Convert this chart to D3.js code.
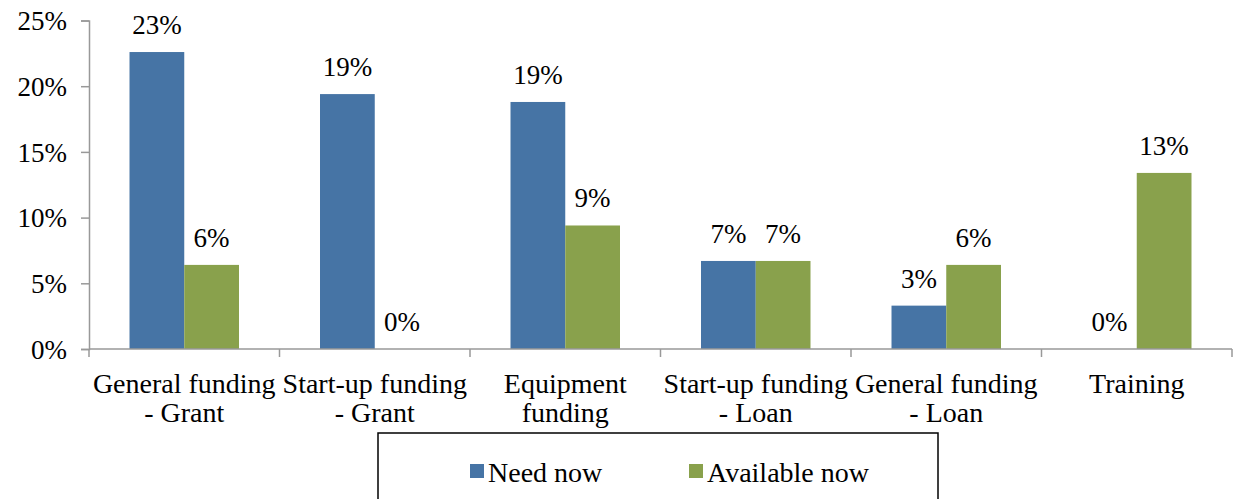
<!DOCTYPE html>
<html>
<head>
<meta charset="utf-8">
<script src="https://cdn.jsdelivr.net/npm/d3@7"></script>
<style>
  body { margin: 0; background: #fff; }
  svg text { font-family: "Liberation Serif", serif; fill: #000; }
</style>
</head>
<body>
<svg id="chart" width="1236" height="499"></svg>
<script>
// data
var categories = [
  ["General funding", "- Grant"],
  ["Start-up funding", "- Grant"],
  ["Equipment", "funding"],
  ["Start-up funding", "- Loan"],
  ["General funding", "- Loan"],
  ["Training"]
];
var seriesNames = ["Need now", "Available now"];
var needNow      = [22.6, 19.4, 18.8, 6.7, 3.3, 0];
var availableNow = [6.4, 0, 9.4, 6.7, 6.4, 13.4];
var valueLabels  = [["23%", "19%", "19%", "7%", "3%", "0%"],
                    ["6%", "0%", "9%", "7%", "6%", "13%"]];
var yTicks = [0, 5, 10, 15, 20, 25];
var colors = ["#4674a5", "#89a14c"];

var svg = d3.select("#chart");
var plotLeft = 89, plotRight = 1232, plotTop = 20.5, plotBottom = 349;

var x0 = d3.scaleBand().domain(d3.range(categories.length))
    .range([plotLeft, plotRight]).paddingInner(0).paddingOuter(0);
var x1 = d3.scaleBand().domain([0, 1])
    .range([0, x0.bandwidth()]).paddingInner(0).paddingOuter(0.74);
var y = d3.scaleLinear().domain([0, 25]).range([plotBottom, plotTop]);

var series = [needNow, availableNow];

// y axis
var yAxis = svg.append("g").attr("transform", "translate(" + plotLeft + ",0)")
    .call(d3.axisLeft(y).tickValues(yTicks).tickSize(8).tickPadding(14)
          .tickFormat(function(d) { return d + "%"; }));
yAxis.select(".domain").attr("stroke", "#999").attr("stroke-width", 1.5);
yAxis.selectAll(".tick line").attr("stroke", "#999").attr("stroke-width", 1.5);
yAxis.selectAll(".tick text").style("font-size", "27px").attr("dy", "0.34em")
    .style("font-family", "Liberation Serif");

// bars
series.forEach(function(vals, s) {
  svg.append("g").selectAll("rect").data(vals).enter().append("rect")
    .attr("x", function(d, i) { return x0(i) + x1(s); })
    .attr("y", function(d) { return y(d); })
    .attr("width", x1.bandwidth())
    .attr("height", function(d) { return y(0) - y(d); })
    .attr("fill", colors[s]);

  svg.append("g").selectAll("text").data(vals).enter().append("text")
    .attr("x", function(d, i) { return x0(i) + x1(s) + x1.bandwidth() / 2; })
    .attr("y", function(d) { return y(d) - 18; })
    .attr("text-anchor", "middle")
    .style("font-size", "27px")
    .text(function(d, i) { return valueLabels[s][i]; });
});

// x axis
svg.append("line").attr("x1", plotLeft).attr("x2", plotRight)
  .attr("y1", plotBottom).attr("y2", plotBottom)
  .attr("stroke", "#999").attr("stroke-width", 1.5);
var bounds = d3.range(categories.length + 1).map(function(i) {
  return i < categories.length ? x0(i) : plotRight;
});
svg.append("g").selectAll("line").data(bounds).enter().append("line")
  .attr("x1", function(d) { return d; }).attr("x2", function(d) { return d; })
  .attr("y1", plotBottom).attr("y2", plotBottom + 8)
  .attr("stroke", "#999").attr("stroke-width", 1.5);

var catLabels = svg.append("g").selectAll("text").data(categories).enter().append("text")
  .attr("text-anchor", "middle")
  .style("font-size", "28px");
catLabels.selectAll("tspan").data(function(d, i) { return d.map(function(t) { return {t: t, i: i}; }); })
  .enter().append("tspan")
  .attr("x", function(d) { return x0(d.i) + x0.bandwidth() / 2; })
  .attr("y", function(d, j) { return 393 + j * 29; })
  .text(function(d) { return d.t; });

// legend
svg.append("rect").attr("x", 378).attr("y", 433).attr("width", 560).attr("height", 90)
  .attr("fill", "none").attr("stroke", "#000").attr("stroke-width", 1.5);
var legendX = [470, 689];
seriesNames.forEach(function(name, s) {
  svg.append("rect").attr("x", legendX[s]).attr("y", 464).attr("width", 14).attr("height", 14)
    .attr("fill", colors[s]);
  svg.append("text").attr("x", legendX[s] + 18).attr("y", 482)
    .style("font-size", "28px").text(name);
});
</script>
</body>
</html>
